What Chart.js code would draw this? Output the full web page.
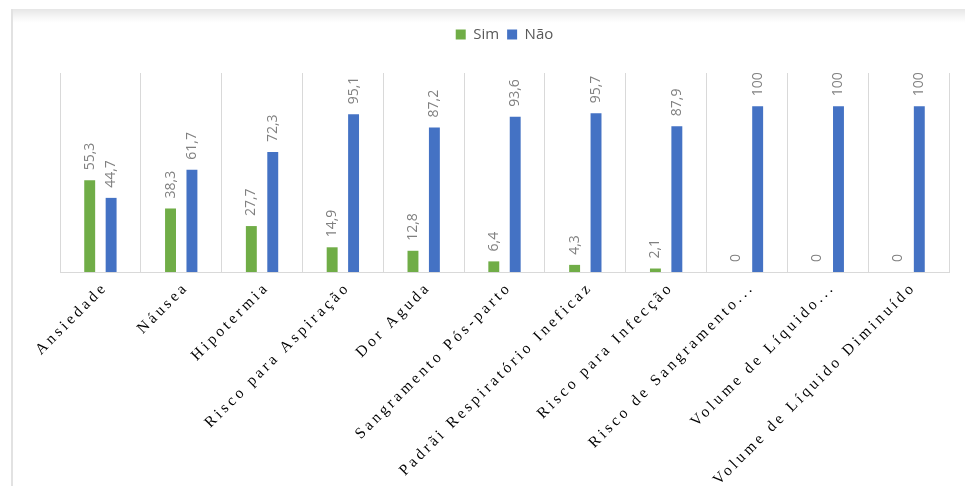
<!DOCTYPE html>
<html>
<head>
<meta charset="utf-8">
<script src="https://cdn.jsdelivr.net/npm/chart.js@4/dist/chart.umd.min.js"></script>
<style>
  html, body { margin: 0; padding: 0; background: #ffffff; }
  #frame {
    position: absolute; left: 11px; top: 9px; width: 954px; height: 477px;
    border-left: 2px solid #e2e2e2;
    background: linear-gradient(to bottom, #e6e6e6 0px, #f6f6f6 8px, #ffffff 14px);
  }
  #wrap { position: absolute; left: 0; top: 0; width: 965px; height: 486px; }
</style>
</head>
<body>
<div id="frame"></div>
<div id="wrap"><canvas id="chart" width="965" height="486"></canvas></div>
<script>
// Data
const categories = [
  'Ansiedade', 'Náusea', 'Hipotermia', 'Risco para Aspiração', 'Dor Aguda',
  'Sangramento Pós-parto', 'Padrãi Respiratório Ineficaz', 'Risco para Infecção',
  'Risco de Sangramento...', 'Volume de Líquido...', 'Volume de Líquido Diminuído'
];
const simValues = [55.3, 38.3, 27.7, 14.9, 12.8, 6.4, 4.3, 2.1, 0, 0, 0];
const naoValues = [44.7, 61.7, 72.3, 95.1, 87.2, 93.6, 95.7, 87.9, 100, 100, 100];

const GREEN = '#70ad47';
const BLUE = '#4472c4';

function formatValue(v) {
  return String(v).replace('.', ',');
}

// Extra room between the legend and the plot
const legendSpacing = {
  id: 'legendSpacing',
  beforeInit(chart) {
    const fit = chart.legend.fit;
    chart.legend.fit = function () {
      fit.bind(chart.legend)();
      this.height += 21;
    };
  }
};

// Rotated value labels above each bar
const valueLabels = {
  id: 'valueLabels',
  afterDatasetsDraw(chart) {
    const ctx = chart.ctx;
    ctx.save();
    ctx.font = '14px "Open Sans", "Noto Sans", sans-serif';
    ctx.fillStyle = '#808080';
    ctx.textAlign = 'left';
    ctx.textBaseline = 'middle';
    chart.data.datasets.forEach((ds, di) => {
      chart.getDatasetMeta(di).data.forEach((bar, i) => {
        ctx.save();
        ctx.translate(bar.x, bar.y - 10);
        ctx.rotate(-Math.PI / 2);
        ctx.fillText(formatValue(ds.data[i]), 0, 0);
        ctx.restore();
      });
    });
    ctx.restore();
  }
};

// Slanted, letter-spaced category labels under the axis
const categoryLabels = {
  id: 'categoryLabels',
  afterDraw(chart) {
    const ctx = chart.ctx;
    const xScale = chart.scales.x;
    const bottom = chart.chartArea.bottom;
    ctx.save();
    ctx.font = '15.5px "Liberation Serif", "DejaVu Serif", serif';
    ctx.letterSpacing = '3.3px';
    ctx.fillStyle = '#000000';
    ctx.textAlign = 'right';
    ctx.textBaseline = 'middle';
    categories.forEach((label, i) => {
      const x = xScale.getPixelForValue(i);
      ctx.save();
      ctx.translate(x + 5, bottom + 13);
      ctx.rotate(-Math.PI / 4);
      ctx.fillText(label, 0, 0);
      ctx.restore();
    });
    ctx.restore();
  }
};

const ctx = document.getElementById('chart').getContext('2d');
new Chart(ctx, {
  type: 'bar',
  data: {
    labels: categories,
    datasets: [
      { label: 'Sim', data: simValues, backgroundColor: GREEN },
      { label: 'Não', data: naoValues, backgroundColor: BLUE }
    ]
  },
  options: {
    responsive: false,
    animation: false,
    categoryPercentage: 0.53,
    barPercentage: 0.51,
    layout: {
      padding: { left: 60, right: 16, top: 19, bottom: 214 }
    },
    plugins: {
      legend: {
        display: true,
        position: 'top',
        labels: {
          color: '#595959',
          boxWidth: 10,
          boxHeight: 10,
          padding: 8,
          font: { size: 15, family: '"Open Sans", "Noto Sans", sans-serif' }
        }
      },
      tooltip: { enabled: false }
    },
    scales: {
      x: {
        ticks: { display: false },
        grid: { color: '#d9d9d9', offset: true, drawTicks: false },
        border: { color: '#d9d9d9' }
      },
      y: {
        display: false,
        min: 0,
        max: 120
      }
    }
  },
  plugins: [legendSpacing, valueLabels, categoryLabels]
});
</script>
</body>
</html>
